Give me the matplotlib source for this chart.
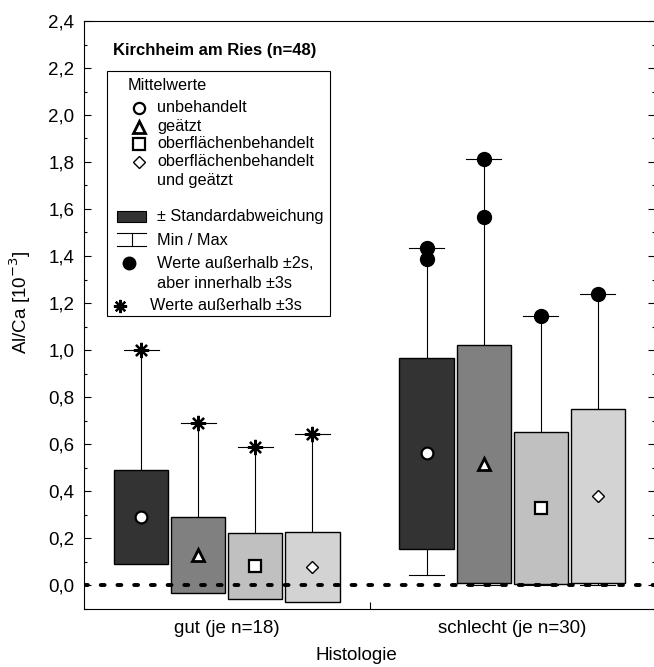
import matplotlib
matplotlib.use("Agg")
import matplotlib.pyplot as plt
from matplotlib.patches import Rectangle
from matplotlib.lines import Line2D
from matplotlib.ticker import MultipleLocator, FuncFormatter

plt.rcParams["font.family"] = ["Liberation Sans", "DejaVu Sans"]

# Al/Ca ratio [10^-3], mean +/- standard deviation per histology group
GROUPS = ["gut (je n=18)", "schlecht (je n=30)"]
TREATMENTS = ["unbehandelt", "geätzt", "oberflächenbehandelt", "oberflächenbehandelt\nund geätzt"]

MEANS_GUT = [0.29, 0.128, 0.08, 0.078]
SD_GUT = [0.20, 0.16, 0.14, 0.149]
MIN_GUT = [0.10, 0.02, 0.01, 0.01]
MAX_GUT = [1.0, 0.691, 0.586, 0.644]
OUT2S_GUT = [[], [], [], []]
OUT3S_GUT = [[1.0], [0.691], [0.586], [0.644]]

MEANS_SCHLECHT = [0.56, 0.515, 0.328, 0.378]
SD_SCHLECHT = [0.408, 0.507, 0.322, 0.371]
MIN_SCHLECHT = [0.043, 0.0, 0.002, 0.002]
MAX_SCHLECHT = [1.435, 1.814, 1.146, 1.237]
OUT2S_SCHLECHT = [[1.435, 1.387], [1.814, 1.566], [1.146], [1.237]]
OUT3S_SCHLECHT = [[], [], [], []]

BOX_COLORS = ["#333333", "#808080", "#c0c0c0", "#d3d3d3"]
MEAN_MARKERS = [
    dict(marker="o", ms=8.5, mew=1.6),
    dict(marker="^", ms=8.5, mew=2.0),
    dict(marker="s", ms=8.5, mew=1.6),
    dict(marker="D", ms=6.5, mew=1.0),
]
OFFSETS = [-0.3, -0.1, 0.1, 0.3]
BOX_WIDTH = 0.19
CAP_WIDTH = 0.122
ASTERISK = (8, 2, 0)

AX_FS = 13.5
LEG_FS = 11.7

W, H = 654, 667
fig = plt.figure(figsize=(W / 100, H / 100), dpi=100)
ax = fig.add_axes([84 / W, (H - 608.5) / H, 571 / W, 587.5 / H])


def fig_xy(px, py):
    return px / W, 1 - py / H


def draw_group(center, means, sds, mins, maxs, out2s, out3s):
    for k in range(4):
        x = center + OFFSETS[k]
        lo = means[k] - sds[k]
        hi = means[k] + sds[k]
        # whiskers sit behind the boxes
        ax.plot([x, x], [mins[k], maxs[k]], color="black", lw=0.8, zorder=1)
        for v in (mins[k], maxs[k]):
            ax.plot([x - CAP_WIDTH / 2, x + CAP_WIDTH / 2], [v, v],
                    color="black", lw=0.8, zorder=1)
        ax.add_patch(Rectangle((x - BOX_WIDTH / 2, lo), BOX_WIDTH, hi - lo,
                               facecolor=BOX_COLORS[k], edgecolor="black",
                               lw=1.0, zorder=2))
        ax.plot([x], [means[k]], ls="none", mfc="white", mec="black",
                zorder=4, **MEAN_MARKERS[k])
        if out2s[k]:
            ax.plot([x] * len(out2s[k]), out2s[k], ls="none", marker="o",
                    ms=10, color="black", zorder=4)
        if out3s[k]:
            ax.plot([x] * len(out3s[k]), out3s[k], ls="none", marker=ASTERISK,
                    ms=11, mew=1.6, color="black", zorder=4)


draw_group(1, MEANS_GUT, SD_GUT, MIN_GUT, MAX_GUT, OUT2S_GUT, OUT3S_GUT)
draw_group(2, MEANS_SCHLECHT, SD_SCHLECHT, MIN_SCHLECHT, MAX_SCHLECHT,
           OUT2S_SCHLECHT, OUT3S_SCHLECHT)

ax.axhline(0, color="black", lw=2.8, ls=(0, (1, 3.3)), dash_capstyle="round", zorder=3)

ax.set_xlim(0.5, 2.5)
ax.set_ylim(-0.1, 2.4)
ax.set_xticks([1, 2])
ax.set_xticklabels(GROUPS, fontsize=AX_FS)
ax.set_xticks([1.5], minor=True)
ax.tick_params(axis="x", which="major", length=0, pad=8)
ax.tick_params(axis="x", which="minor", direction="in", length=5, width=0.8)
ax.yaxis.set_major_locator(MultipleLocator(0.2))
ax.yaxis.set_minor_locator(MultipleLocator(0.1))
ax.yaxis.set_major_formatter(FuncFormatter(lambda v, _: f"{v:.1f}".replace(".", ",")))
ax.tick_params(axis="y", which="both", direction="in", left=True, right=True,
               labelsize=AX_FS, pad=7, width=0.8)
ax.tick_params(axis="y", which="major", length=5)
ax.tick_params(axis="y", which="minor", length=2.5)
for side in ax.spines.values():
    side.set_linewidth(0.8)

fig.text(*fig_xy(20, 302), "Al/Ca [10$^{-3}$]", fontsize=AX_FS, rotation=90,
         ha="center", va="center")
fig.text(*fig_xy(356, 656), "Histologie", fontsize=AX_FS, ha="center", va="center")

# title and legend block
fig.text(*fig_xy(113, 50), "Kirchheim am Ries (n=48)", fontsize=12,
         fontweight="bold", ha="left", va="center")
x0, y0 = fig_xy(107, 316)
x1, y1 = fig_xy(330, 70.7)
fig.patches.append(Rectangle((x0, y0), x1 - x0, y1 - y0, transform=fig.transFigure,
                             facecolor="white", edgecolor="black", lw=0.8, zorder=5))


def legend_text(px, py, label):
    fig.text(*fig_xy(px, py), label, fontsize=LEG_FS, ha="left", va="center", zorder=6)


legend_text(128, 86, "Mittelwerte")
legend_rows = [107.5, 126.5, 144, 162]
for k, py in enumerate(legend_rows):
    style = dict(MEAN_MARKERS[k])
    style["ms"] = style["ms"] * 0.95
    fig.add_artist(Line2D([139 / W], [1 - py / H], transform=fig.transFigure, ls="none",
                          mfc="white", mec="black", zorder=6, **style))
for label, py in zip(TREATMENTS, legend_rows):
    for i, line in enumerate(label.split("\n")):
        legend_text(157, py + 19 * i, line)

bx0, by0 = fig_xy(117.3, 222.3)
bx1, by1 = fig_xy(145.7, 211)
fig.patches.append(Rectangle((bx0, by0), bx1 - bx0, by1 - by0, transform=fig.transFigure,
                             facecolor=BOX_COLORS[0], edgecolor="black", lw=0.8, zorder=6))
legend_text(157, 216.5, "± Standardabweichung")

for py in (233.3, 246):
    fig.add_artist(Line2D([116.7 / W, 146 / W], [1 - py / H] * 2, transform=fig.transFigure,
                          color="black", lw=0.8, zorder=6))
fig.add_artist(Line2D([131.5 / W] * 2, [1 - 233.3 / H, 1 - 246 / H], transform=fig.transFigure,
                      color="black", lw=0.8, zorder=6))
legend_text(157, 240, "Min / Max")

fig.add_artist(Line2D([129.3 / W], [1 - 263.3 / H], transform=fig.transFigure, ls="none",
                      marker="o", ms=9, color="black", zorder=6))
legend_text(157, 263.5, "Werte außerhalb ±2s,")
legend_text(157, 283, "aber innerhalb ±3s")

fig.add_artist(Line2D([120 / W], [1 - 306 / H], transform=fig.transFigure, ls="none",
                      marker=ASTERISK, ms=9.5, mew=1.6, color="black", zorder=6))
legend_text(150, 306, "Werte außerhalb ±3s")

fig.savefig("out.png", dpi=100)
